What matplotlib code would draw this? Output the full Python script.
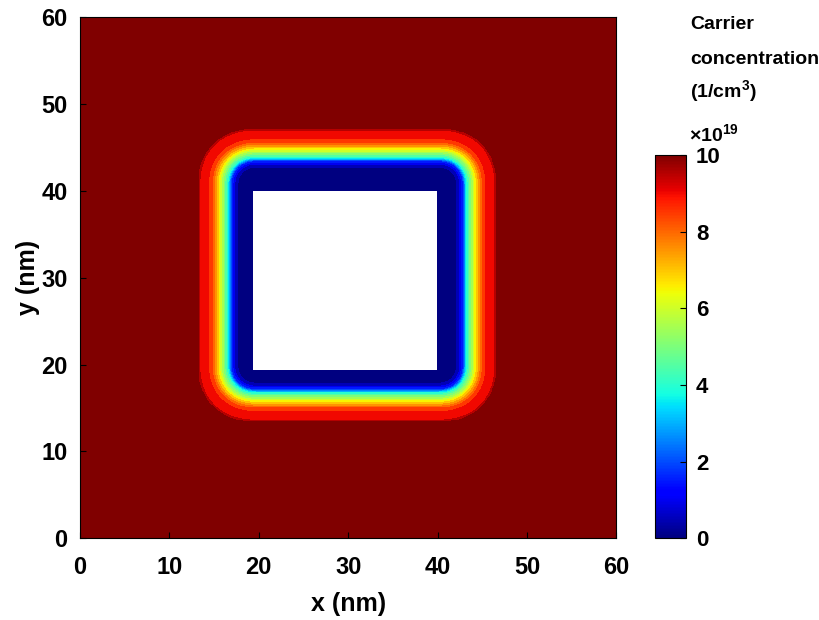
import numpy as np
import matplotlib.pyplot as plt
import matplotlib as mpl

plt.rcParams['font.family'] = ['Liberation Sans', 'DejaVu Sans']
plt.rcParams['font.weight'] = 'bold'
plt.rcParams['mathtext.fontset'] = 'custom'
plt.rcParams['mathtext.rm'] = 'Liberation Sans'
plt.rcParams['mathtext.bf'] = 'Liberation Sans:bold'

# domain and etched hole (nm)
x_range = [0, 60]
y_range = [0, 60]
hole_x = [19.3, 40.0]
hole_y = [19.4, 40.1]
# rectangle the depletion profile is measured from (slightly off the hole)
core_x = [19.8, 40.0]
core_y = [20.0, 40.6]

# carrier concentration (x1e19 /cm^3) vs distance from core edge (nm)
depth_nm = [0.0, 2.0, 2.5, 2.9, 3.25, 3.6, 4.0, 4.35, 4.7, 5.0, 5.4, 6.4, 6.6]
conc_e19 = [0.0, 0.3, 1.0, 2.0, 4.0, 5.0, 6.0, 7.0, 7.8, 8.5, 9.0, 9.45, 10.0]

x_ticks = [0, 10, 20, 30, 40, 50, 60]
y_ticks = [0, 10, 20, 30, 40, 50, 60]
cbar_ticks = [0, 2, 4, 6, 8, 10]
levels = np.linspace(0, 10, 21)

x = np.linspace(x_range[0], x_range[1], 601)
y = np.linspace(y_range[0], y_range[1], 601)
X, Y = np.meshgrid(x, y)

dx = np.maximum(np.maximum(core_x[0] - X, X - core_x[1]), 0)
dy = np.maximum(np.maximum(core_y[0] - Y, Y - core_y[1]), 0)
dist = (dx ** 2.3 + dy ** 2.3) ** (1 / 2.3)
Z = np.interp(dist, depth_nm, conc_e19)
inside = (X > hole_x[0]) & (X < hole_x[1]) & (Y > hole_y[0]) & (Y < hole_y[1])
Z = np.ma.masked_where(inside, Z)

# MATLAB-style fill: each band takes the colour of its lower level
jet = plt.get_cmap('jet')
band_colors = [jet(v / 10) for v in levels[:-1]]

fig = plt.figure(figsize=(8.2, 6.2), dpi=100)
ax = fig.add_axes([0.0976, 0.132, 0.654, 0.840])
ax.contourf(X, Y, Z, levels=levels, colors=band_colors)
ax.contourf(X, Y, Z, levels=[9.999, 11], colors=[jet(1.0)])

ax.set_xlim(x_range)
ax.set_ylim(y_range)
ax.set_xticks(x_ticks)
ax.set_yticks(y_ticks)
ax.tick_params(axis='x', direction='in', length=4, labelsize=17, pad=13)
ax.tick_params(axis='y', direction='in', length=4, labelsize=17, pad=9)
for lab in ax.get_xticklabels() + ax.get_yticklabels():
    lab.set_fontweight('bold')
ax.set_xlabel('x (nm)', fontsize=18, fontweight='bold', labelpad=9)
ax.set_ylabel('y (nm)', fontsize=18, fontweight='bold', labelpad=1)

cax = fig.add_axes([0.799, 0.132, 0.038, 0.618])
sm = mpl.cm.ScalarMappable(norm=mpl.colors.Normalize(0, 10), cmap=jet)
cb = fig.colorbar(sm, cax=cax, ticks=cbar_ticks)
cb.ax.tick_params(direction='in', length=4, labelsize=16, pad=7)
for lab in cb.ax.get_yticklabels():
    lab.set_fontweight('bold')
cb.outline.set_linewidth(0.8)

fig.text(0.842, 0.953, 'Carrier', ha='left', va='baseline', fontsize=14, fontweight='bold')
fig.text(0.842, 0.897, 'concentration', ha='left', va='baseline', fontsize=14, fontweight='bold')
fig.text(0.842, 0.841, r'(1/cm$^{\mathbf{3}}$)', ha='left', va='baseline', fontsize=14, fontweight='bold')
fig.text(0.840, 0.772, r'$\times\mathbf{10^{19}}$', ha='left', va='baseline', fontsize=14)

fig.savefig('out.png', dpi=100)
plt.close(fig)
